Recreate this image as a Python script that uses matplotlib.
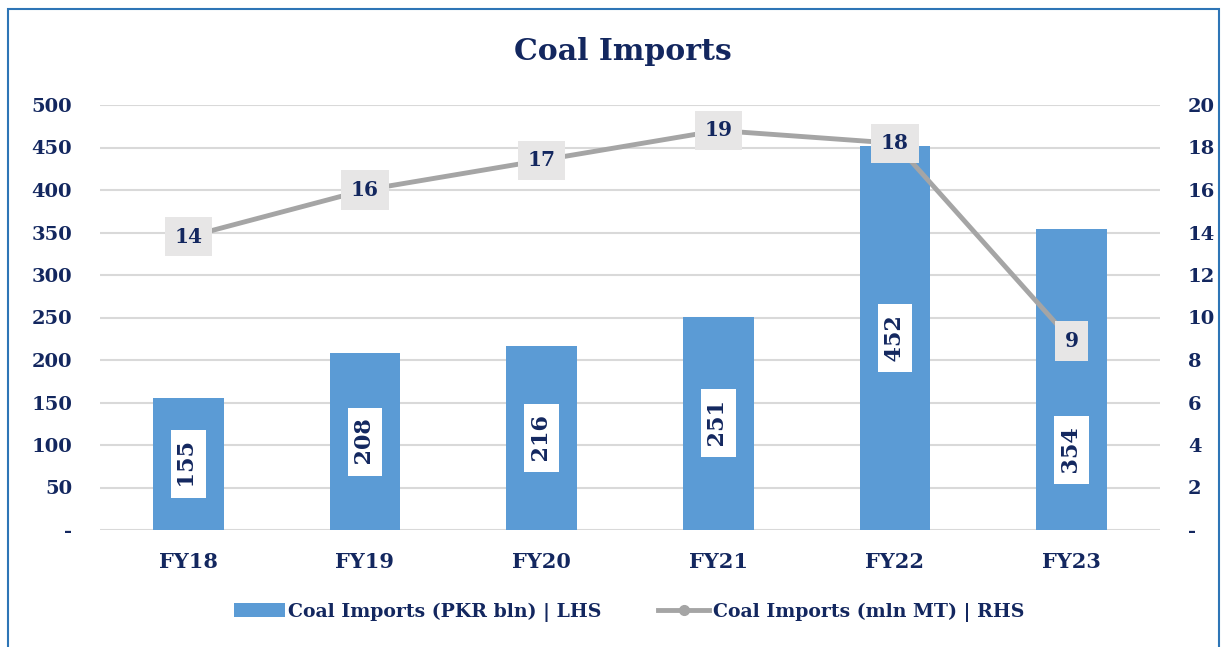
import matplotlib
matplotlib.use("Agg")
import matplotlib.pyplot as plt
from matplotlib.lines import Line2D
from matplotlib.patches import Patch, Rectangle

categories = ["FY18", "FY19", "FY20", "FY21", "FY22", "FY23"]
pkr_bln = [155, 208, 216, 251, 452, 354]
mln_mt = [13.8, 16.0, 17.4, 18.8, 18.2, 8.9]
mln_mt_labels = ["14", "16", "17", "19", "18", "9"]
left_ticks = [0, 50, 100, 150, 200, 250, 300, 350, 400, 450, 500]
right_ticks = [0, 2, 4, 6, 8, 10, 12, 14, 16, 18, 20]

NAVY = "#13275F"
BAR = "#5B9BD5"
LINE = "#A5A5A5"
SERIF = ["DejaVu Serif"]

W, H = 1221, 647
fig = plt.figure(figsize=(W / 100, H / 100), dpi=100)
ax = fig.add_axes([100 / W, 1 - 530 / H, 1060 / W, 425 / H])
ax2 = ax.twinx()

x = list(range(len(categories)))
ax.bar(x, pkr_bln, width=0.4, color=BAR, zorder=2)
ax.set_xlim(-0.5, 5.5)
ax.set_ylim(0, 500)
ax.set_yticks(left_ticks)
ax.set_yticklabels(["-" if v == 0 else str(v) for v in left_ticks])
ax.set_xticks(x)
ax.set_xticklabels(categories)
ax.grid(axis="y", color="#D9D9D9", linewidth=1.5, zorder=0)
ax.set_axisbelow(True)
for s in ax.spines.values():
    s.set_visible(False)
for s in ax2.spines.values():
    s.set_visible(False)
ax.tick_params(axis="both", length=0, colors=NAVY)
ax.tick_params(axis="y", pad=20)
ax.tick_params(axis="x", pad=16)
for lab in ax.get_yticklabels():
    lab.set_fontfamily(SERIF)
    lab.set_fontweight("bold")
    lab.set_fontsize(14)
    lab.set_color(NAVY)
for lab in ax.get_xticklabels():
    lab.set_fontfamily(SERIF)
    lab.set_fontweight("bold")
    lab.set_fontsize(15)
    lab.set_color(NAVY)

# label anchor: middle of bar, except the last one which is lowered to avoid the line label
for i, (xi, v) in enumerate(zip(x, pkr_bln)):
    ypos = v / 2 if i < len(pkr_bln) - 1 else v * 0.265
    ax.text(xi, ypos, "\u2009" + str(v) + "\u2009", rotation=90, ha="center", va="center",
            fontsize=16, fontweight="bold", family=SERIF, color=NAVY, zorder=4,
            bbox=dict(boxstyle="square,pad=0.28", facecolor="white", edgecolor="none"))

ax2.plot(x, mln_mt, color=LINE, linewidth=3.5, marker="o", markersize=7, zorder=3)
ax2.set_ylim(0, 20)
ax2.set_yticks(right_ticks)
ax2.set_yticklabels(["-" if v == 0 else str(v) for v in right_ticks])
ax2.tick_params(axis="y", length=0, colors=NAVY, pad=20)
for lab in ax2.get_yticklabels():
    lab.set_fontfamily(SERIF)
    lab.set_fontweight("bold")
    lab.set_fontsize(14)
    lab.set_color(NAVY)
for xi, v, t in zip(x, mln_mt, mln_mt_labels):
    ax2.text(xi, v, t, ha="center", va="center", fontsize=14.5, fontweight="bold",
             family=SERIF, color=NAVY, zorder=5,
             bbox=dict(boxstyle="square,pad=0.48", facecolor="#E7E6E6", edgecolor="none"))

fig.text(623 / W, 1 - 52 / H, "Coal Imports", ha="center", va="center",
         fontsize=21.5, fontweight="bold", family=SERIF, color=NAVY)

handles = [Patch(facecolor=BAR, edgecolor="none"),
           Line2D([0], [0], color=LINE, linewidth=3.5, marker="o", markersize=7)]
labels = ["Coal Imports (PKR bln) | LHS", "Coal Imports (mln MT) | RHS"]
leg = fig.legend(handles, labels, loc="center", bbox_to_anchor=(629 / W, 1 - 612 / H),
                 ncol=2, frameon=False, handlelength=2.7, handletextpad=0.2,
                 columnspacing=3.0,
                 prop=dict(family=SERIF, weight="bold", size=13.6))
for t in leg.get_texts():
    t.set_color(NAVY)

fig.add_artist(Rectangle((8 / W, -0.05), (1211) / W, 1 - 9 / H + 0.05,
                         transform=fig.transFigure, fill=False,
                         edgecolor="#2E75B6", linewidth=1.5))

fig.savefig("out.png", dpi=100)
